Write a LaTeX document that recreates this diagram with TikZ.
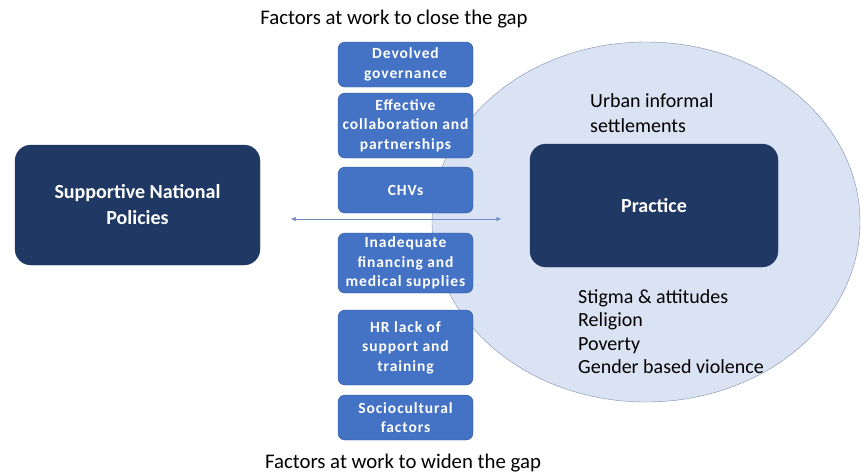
\documentclass[tikz,border=0pt]{standalone}
\usepackage{fontspec}
\setmainfont{Carlito}
\newfontfamily\factorfont[LetterSpace=6]{Carlito}
\usetikzlibrary{arrows.meta,positioning,shapes.geometric}
\definecolor{Navy}{HTML}{203864}
\definecolor{Factor}{HTML}{4472C4}
\definecolor{FactorEdge}{HTML}{2F528F}
\definecolor{Setting}{HTML}{DAE3F3}
\definecolor{SettingEdge}{HTML}{7F8FA9}
\definecolor{Gap}{HTML}{6F8BC8}

\begin{document}
\begin{tikzpicture}[x=1pt,y=-1pt,>={Latex[length=4.5pt,width=4.5pt]},
  factor/.style={draw=FactorEdge,fill=Factor,rounded corners=7pt,text=white,align=center,
    minimum width=135pt,inner sep=1pt,font=\factorfont\fontsize{15.5}{19.5}\selectfont\bfseries},
  core/.style={draw=Navy,fill=Navy,rounded corners=16pt,text=white,align=center,
    font=\fontsize{20}{26}\selectfont\bfseries},
  caption/.style={font=\fontsize{20.8}{24}\selectfont},
  plain/.style={align=left,inner sep=0pt,font=\fontsize{20}{24}\selectfont}]
  \useasboundingbox (0,0) rectangle (861,475);

  % the setting around practice
  \node[ellipse,draw=SettingEdge,fill=Setting,minimum width=428pt,minimum height=360pt] (urban) at (646,222) {};
  \node[plain,anchor=north west,font=\fontsize{20}{25}\selectfont] (urbtxt) at (590,93) {Urban informal\\settlements};
  \node[plain,anchor=north west,font=\fontsize{20}{23.5}\selectfont] (barriers) at (578,289) {Stigma \& attitudes\\Religion\\Poverty\\Gender based violence};

  % policy and practice
  \node[core,minimum width=245pt,minimum height=120pt] (policy) at (137.5,205) {Supportive National\\Policies};
  \node[core,minimum width=248pt,minimum height=123pt] (practice) at (654,205.5) {Practice};

  % the gap between them
  \coordinate (gapL) at (291,219);
  \coordinate (gapR) at (501,219);
  \draw[Gap,<->] (gapL) -- (gapR);

  % factors, closing above and widening below
  \node[caption] (closing) at (394,19) {Factors at work to close the gap};
  \node[factor,minimum height=45pt] (devolved) at (405.5,64.5) {Devolved\\governance};
  \node[factor,minimum height=65pt] (collab) at (405.5,125.5) {Effective\\collaboration and\\partnerships};
  \node[factor,minimum height=46pt] (chv) at (405.5,190) {CHVs};
  \node[factor,minimum height=60pt] (finance) at (405.5,263) {Inadequate\\financing and\\medical supplies};
  \node[factor,minimum height=75pt] (hr) at (405.5,347.5) {HR lack of\\support and\\training};
  \node[factor,minimum height=45pt] (socio) at (405.5,417.5) {Sociocultural\\factors};
  \node[caption] (widening) at (403,463) {Factors at work to widen the gap};
\end{tikzpicture}
\end{document}
